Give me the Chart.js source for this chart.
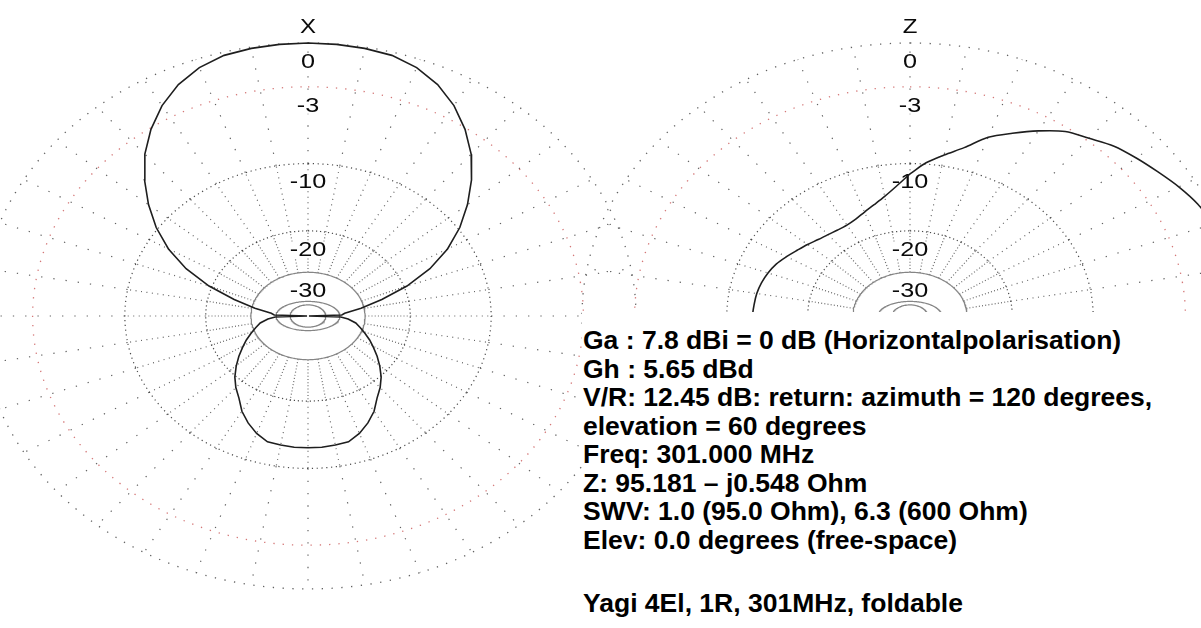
<!DOCTYPE html>
<html><head><meta charset="utf-8">
<script src="https://cdn.jsdelivr.net/npm/chart.js@4.4.1/dist/chart.umd.min.js"></script>
<style>
html,body{margin:0;padding:0;background:#fff;overflow:hidden;}
#wrap{position:relative;width:1201px;height:628px;overflow:hidden;}
#c{position:absolute;left:0;top:0;}
#info{position:absolute;left:582px;top:312px;width:619px;height:316px;background:#fff;
  font:bold 26.5px "Liberation Sans",Arial,sans-serif;line-height:28.5px;color:#000;
  white-space:nowrap;padding:14px 0 0 1px;box-sizing:border-box;}
#info .foot{margin-top:35px;}
</style></head>
<body><div id="wrap"><canvas id="c" width="1201" height="628"></canvas><div id="info"></div></div>
<script>
// ---------- DATA ----------
// Left plot "X": angle (deg, clockwise from top) and relative gain (dB)
const anglesX = [0,5,10,15,20,25,30,35,40,45,50,55,60,65,70,75,80,85,88,
  90,92,95,100,105,110,115,120,125,130,135,140,145,150,155,160,165,170,175,
  180,185,190,195,200,205,210,215,220,225,230,235,240,245,250,255,260,265,268,
  270,272,275,280,285,290,295,300,305,310,315,320,325,330,335,340,345,350,355];
const patternX = [0,-0.02,-0.08,-0.2,-0.55,-1.15,-2.0,-3.1,-4.4,-6.0,-7.8,-9.8,-12.2,-15.3,-19.5,-25.0,-31.0,-37.5,-39.0,
  -100,-39.5,-36.0,-32.8,-30.9,-29.0,-27.0,-25.2,-23.3,-21.5,-19.8,-18.4,-17.2,-15.6,-14.4,-13.4,-12.7,-12.6,-12.5,
  -12.5,-12.5,-12.6,-12.7,-13.4,-14.4,-15.6,-17.2,-18.4,-19.8,-21.5,-23.3,-25.2,-27.0,-29.0,-30.9,-32.8,-36.0,-39.5,
  -100,-39.0,-37.5,-31.0,-25.0,-19.5,-15.3,-12.2,-9.8,-7.8,-6.0,-4.4,-3.1,-2.0,-1.15,-0.55,-0.2,-0.08,-0.02];

// Right plot "Z": angle (deg) and relative gain (dB)
const anglesZ = [0,5,10,15,20,25,30,35,40,45,50,55,60,65,70,75,80,85,
  90,95,100,105,110,115,120,125,130,135,140,145,150,155,160,165,170,175,
  180,185,190,195,200,205,210,215,220,225,230,235,240,245,250,255,260,265,
  270,275,280,285,290,295,300,305,310,315,320,325,330,335,340,345,350,355];
const patternZ = [-11.2,-9.85,-8.8,-7.7,-6.2,-5.2,-4.2,-3.3,-2.8,-2.2,-1.8,-1.4,-0.95,-0.55,-0.3,-0.15,-0.05,-0.01,
  0,-0.01,-0.05,-0.15,-0.3,-0.55,-0.95,-1.4,-1.8,-2.2,-2.8,-3.3,-4.2,-5.2,-6.2,-7.7,-8.8,-9.85,
  -11.2,-12.7,-13.9,-14.8,-15.5,-16.1,-16.4,-16.4,-16.2,-15.9,-15.4,-14.9,-14.3,-13.7,-13.3,-13.0,-12.8,-12.7,
  -12.6,-12.7,-12.8,-13.0,-13.3,-13.7,-14.3,-14.9,-15.4,-15.9,-16.2,-16.4,-16.4,-16.1,-15.5,-14.8,-13.9,-12.7];

const plotTitles = ['X', 'Z'];
const ringDb = [0, -3, -10, -20, -30, -40, -50];
const ringLabels = ['0', '-3', '-10', '-20', '-30'];
const infoLines = [
  'Ga : 7.8 dBi = 0 dB (Horizontalpolarisation)',
  'Gh : 5.65 dBd',
  'V/R: 12.45 dB: return: azimuth = 120 degrees,',
  'elevation = 60 degrees',
  'Freq: 301.000 MHz',
  'Z: 95.181 \u2013 j0.548 Ohm',
  'SWV: 1.0 (95.0 Ohm), 6.3 (600 Ohm)',
  'Elev: 0.0 degrees (free-space)'
];
const footerLine = 'Yagi 4El, 1R, 301MHz, foldable';

// ---------- LAYOUT / STYLE ----------
const W = 1201, H = 628;
const cxLeftPx = 308, cxRightPx = 910, cyPx = 316, rxPx = 328, ryPx = 273;
const plotCenters = [0, (cxRightPx - cxLeftPx) / rxPx];   // data units
const spokeStep = 10;
const ringStyle = {
  '0':   {color:'rgba(70,70,70,0.85)', dash:[1.3,8.5], width:1.3, squash:1},
  '-3':  {color:'rgba(205,95,95,0.85)', dash:[1.3,8],  width:1.3, squash:1},
  '-10': {color:'rgba(55,55,55,0.9)',  dash:[1.2,3.6], width:1.2, squash:1},
  '-20': {color:'rgba(55,55,55,0.9)',  dash:[1.2,2.8], width:1.2, squash:1},
  '-30': {color:'#858585', dash:[], width:1.2, squash:0.92},
  '-40': {color:'#858585', dash:[], width:1.2, squash:0.55},
  '-50': {color:'#858585', dash:[], width:1.2, squash:0.75}
};
const spokeSegs = [
  {from:-30, to:-20, dash:[1,2.2], color:'rgba(70,70,70,0.8)'},
  {from:-20, to:-10, dash:[1,4.5], color:'rgba(70,70,70,0.85)'},
  {from:-10, to:0,   dash:[1.3,11], color:'rgba(70,70,70,0.85)'}
];

const rOf = db => Math.pow(0.89, -db / 2);   // ARRL log scale
const rad = d => d * Math.PI / 180;

const datasets = [];
// pattern curves (drawn on top)
[[anglesX, patternX, 0], [anglesZ, patternZ, 0.3]].forEach(([angs, vals, tens], p) => {
  const cx = plotCenters[p];
  const pts = angs.map((a, i) => {
    const r = rOf(vals[i]);
    return {x: cx + r * Math.sin(rad(a)), y: r * Math.cos(rad(a))};
  });
  pts.push({...pts[0]});
  datasets.push({kind:'pattern', data: pts, showLine:true, pointRadius:0, borderColor:'#1e1e1e',
    borderWidth:1.6, fill:false, order:0, tension:tens});
});
// grid
plotCenters.forEach(cx => {
  ringDb.forEach(db => {
    const st = ringStyle[String(db)];
    const r = rOf(db), pts = [];
    for (let k = 0; k <= 360; k += 1) pts.push({x: cx + r * Math.sin(rad(k)), y: r * Math.cos(rad(k)) * st.squash});
    datasets.push({kind:'grid', data: pts, showLine:true, pointRadius:0, borderColor: st.color,
      borderWidth: st.width, borderDash: st.dash, fill:false, order:1});
  });
  spokeSegs.forEach(sg => {
    const pts = [];
    const r0 = rOf(sg.from), r1 = rOf(sg.to);
    const sq0 = sg.from === -30 ? ringStyle['-30'].squash : 1;
    for (let a = 0; a < 360; a += spokeStep) {
      pts.push({x: cx + r0 * Math.sin(rad(a)), y: r0 * Math.cos(rad(a)) * sq0});
      pts.push({x: cx + r1 * Math.sin(rad(a)), y: r1 * Math.cos(rad(a))});
      pts.push({x: null, y: null});
    }
    datasets.push({kind:'grid', data: pts, showLine:true, spanGaps:false, pointRadius:0, borderColor: sg.color,
      borderWidth: 1.2, borderDash: sg.dash, fill:false, order:1});
  });
});

const labelPlugin = {
  id: 'ringLabels',
  beforeDraw(chart) { chart.$labelsDone = false; },
  beforeDatasetDraw(chart, args) {
    if (chart.$labelsDone) return;
    if (chart.data.datasets[args.index].kind !== 'pattern') return;
    chart.$labelsDone = true;
    const ctx = chart.ctx, xs = chart.scales.x, ys = chart.scales.y;
    ctx.save();
    ctx.textAlign = 'center';
    ctx.textBaseline = 'middle';
    plotCenters.forEach((cx, p) => {
      const px = xs.getPixelForValue(cx);
      const draw = (txt, py, font, bg) => {
        ctx.save();
        ctx.translate(px, py);
        ctx.scale(rxPx / ryPx, 1);
        ctx.font = font;
        if (bg) {
          const w = ctx.measureText(txt).width;
          ctx.fillStyle = '#fff';
          ctx.fillRect(-w / 2 - 1, -8, w + 2, 16);
        }
        ctx.fillStyle = '#0a0a0a';
        ctx.fillText(txt, 0, 0);
        ctx.restore();
      };
      draw(plotTitles[p], ys.getPixelForValue(rOf(0)) - 16, '20px "Liberation Sans", Arial, sans-serif', false);
      ringLabels.forEach((lab, i) => {
        draw(lab, ys.getPixelForValue(rOf(ringDb[i]) * ringStyle[String(ringDb[i])].squash) + 19,
          '21px "Liberation Sans", Arial, sans-serif', true);
      });
    });
    ctx.restore();
  }
};

new Chart(document.getElementById('c').getContext('2d'), {
  type: 'scatter',
  data: { datasets },
  options: {
    responsive: false, animation: false, events: [],
    devicePixelRatio: 1,
    layout: { padding: 0 },
    plugins: { legend: { display: false }, tooltip: { enabled: false } },
    scales: {
      x: { type: 'linear', display: false, min: -cxLeftPx / rxPx, max: (W - cxLeftPx) / rxPx },
      y: { type: 'linear', display: false, min: -(H - cyPx) / ryPx, max: cyPx / ryPx }
    }
  },
  plugins: [labelPlugin]
});

const info = document.getElementById('info');
infoLines.forEach(t => { const d = document.createElement('div'); d.textContent = t; info.appendChild(d); });
const f = document.createElement('div'); f.className = 'foot'; f.textContent = footerLine; info.appendChild(f);
</script>
</body></html>
